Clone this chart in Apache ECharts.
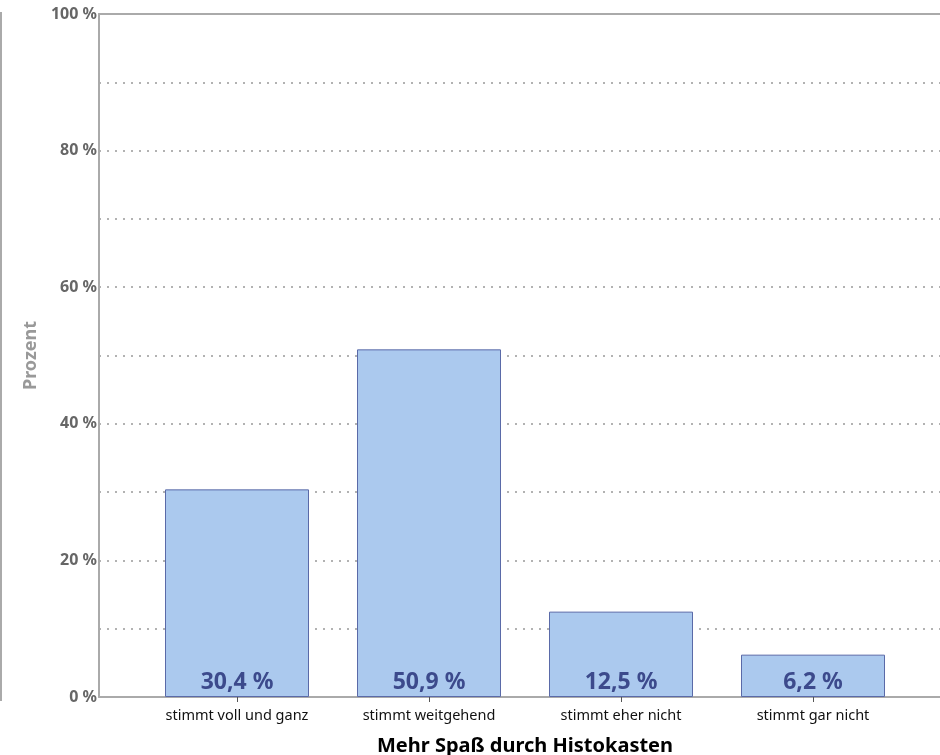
<!DOCTYPE html>
<html><head><meta charset="utf-8">
<script src="https://cdn.jsdelivr.net/npm/echarts@6/dist/echarts.min.js"></script>
<style>html,body{margin:0;padding:0;background:#fff}#c{width:940px;height:755px}</style>
</head><body><div id="c"></div>
<script>
const categories = ['stimmt voll und ganz', 'stimmt weitgehend', 'stimmt eher nicht', 'stimmt gar nicht'];
const values = [30.4, 50.9, 12.5, 6.2];
const yTickLabels = ['0 %', '20 %', '40 %', '60 %', '80 %', '100 %'];
const xTitle = 'Mehr Spaß durch Histokasten';
const yTitle = 'Prozent';

const FONT = 'Noto Sans';
const chart = echarts.init(document.getElementById('c'));
chart.setOption({
  animation: false,
  textStyle: {fontFamily: FONT},
  grid: [
    {left: 99, right: 0, top: 14, bottom: 58, outerBoundsMode: 'none', containLabel: false},
    {left: 141, width: 768, top: 14, bottom: 58, outerBoundsMode: 'none', containLabel: false}
  ],
  graphic: [{type: 'line', shape: {x1: 1, y1: 12, x2: 1, y2: 701}, style: {stroke: '#aaa', lineWidth: 2}}],
  xAxis: [
    {gridIndex: 0, type: 'value', min: 0, max: 1, position: 'bottom', axisLine: {show: true, lineStyle: {color: '#aaa', width: 2}}, axisTick: {show: false}, axisLabel: {show: false}, splitLine: {show: false}},
    {gridIndex: 0, type: 'value', min: 0, max: 1, position: 'top', axisLine: {show: true, lineStyle: {color: '#aaa', width: 2}}, axisTick: {show: false}, axisLabel: {show: false}, splitLine: {show: false}},
    {gridIndex: 1, type: 'category', data: categories, position: 'bottom',
      axisLine: {show: false},
      axisTick: {show: true, alignWithLabel: true, length: 5, lineStyle: {color: '#555'}},
      axisLabel: {color: '#111', fontSize: 14.5, margin: 11, fontFamily: FONT},
      name: xTitle, nameLocation: 'middle', nameGap: 39,
      nameTextStyle: {color: '#000', fontSize: 20, fontWeight: 'bold', fontFamily: FONT}}
  ],
  yAxis: [
    {gridIndex: 0, type: 'value', min: 0, max: 100, interval: 10,
      axisLine: {show: true, lineStyle: {color: '#aaa', width: 2}},
      axisTick: {show: false},
      axisLabel: {color: '#666', fontSize: 16, fontWeight: 'bold', margin: 2, fontFamily: FONT,
        formatter: v => (v % 20 === 0 ? yTickLabels[v / 20] : '')},
      splitLine: {show: true, lineStyle: {color: '#999', width: 1.5, type: [2, 6]}},
      name: yTitle, nameLocation: 'middle', nameGap: 54, nameRotate: 90,
      nameTextStyle: {color: '#999', fontSize: 18, fontWeight: 'bold', fontFamily: FONT}},
    {gridIndex: 1, type: 'value', min: 0, max: 100, show: false}
  ],
  series: [{
    type: 'bar', xAxisIndex: 2, yAxisIndex: 1, data: values,
    barCategoryGap: '25%',
    itemStyle: {color: '#abc9ee', borderColor: '#5a6aa8', borderWidth: 1},
    label: {show: true, position: 'insideBottom', distance: 3, color: '#3c4a8c', fontSize: 23, fontWeight: 'bold', fontFamily: FONT,
      formatter: p => String(p.value).replace('.', ',') + ' %'}
  }]
});
</script></body></html>
